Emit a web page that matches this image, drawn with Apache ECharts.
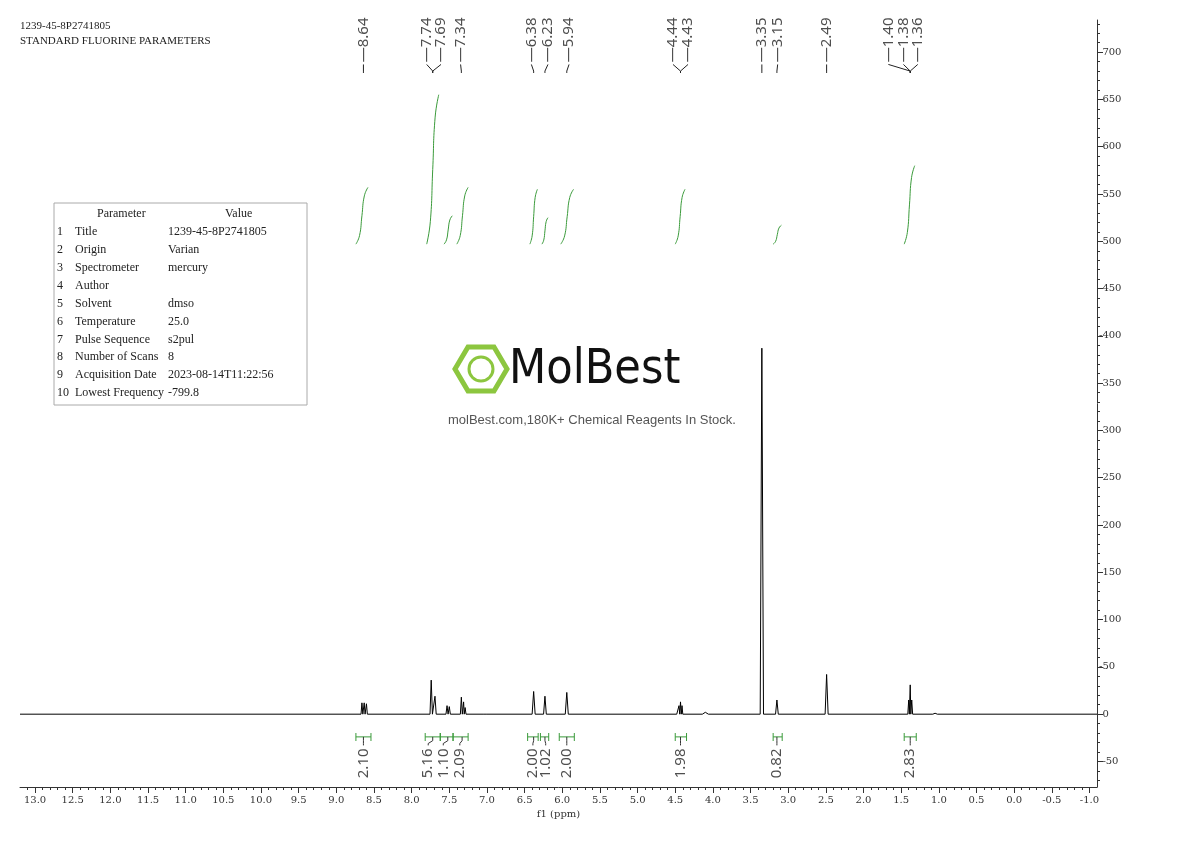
<!DOCTYPE html>
<html><head><meta charset="utf-8">
<script src="https://cdn.jsdelivr.net/npm/echarts@6/dist/echarts.min.js"></script>
<style>html,body{margin:0;padding:0;background:#fff}#c{width:1190px;height:841px}</style>
</head><body><div id="c"></div>
<script>
// spectrum peaks (ppm, intensity, half-width)
const peakShift  = [8.66, 8.63, 8.60, 7.74, 7.69, 7.53, 7.50, 7.34, 7.31, 7.29, 7.02, 6.38, 6.23, 5.94, 4.45, 4.43, 4.41, 4.10, 3.35, 3.15, 2.49, 1.40, 1.38, 1.36, 1.05];
const peakHeight = [12, 12, 11, 36, 19, 9, 8, 18, 13, 7, 2, 24, 19, 23, 9, 13, 9, 2, 387, 15, 42, 15, 31, 15, 1];
const peakWidth  = [0.012, 0.012, 0.012, 0.016, 0.016, 0.014, 0.014, 0.013, 0.012, 0.012, 0.02, 0.02, 0.018, 0.02, 0.03, 0.03, 0.03, 0.04, 0.022, 0.018, 0.02, 0.012, 0.012, 0.012, 0.03];
// integrals
const intStart = [8.74, 7.80, 7.57, 7.40, 6.43, 6.27, 6.02, 4.50, 3.20, 1.46];
const intEnd   = [8.58, 7.64, 7.46, 7.25, 6.33, 6.19, 5.85, 4.37, 3.09, 1.32];
const intY0    = [497, 497, 497, 497, 497, 497, 497, 497, 497, 497];
const intY1    = [557, 655, 527, 557, 555, 525, 555, 555, 517, 580];
const intLabel = ['2.10', '5.16', '1.10', '2.09', '2.00', '1.02', '2.00', '1.98', '0.82', '2.83'];
const intLabelX= [8.64, 7.78, 7.58, 7.36, 6.39, 6.22, 5.94, 4.43, 3.15, 1.38];
const intBarX  = [8.64, 7.72, 7.52, 7.33, 6.38, 6.23, 5.94, 4.43, 3.15, 1.38];
const intBarL  = [8.74, 7.82, 7.62, 7.45, 6.46, 6.29, 6.04, 4.50, 3.20, 1.46];
const intBarR  = [8.54, 7.62, 7.45, 7.25, 6.32, 6.18, 5.84, 4.35, 3.08, 1.30];
// peak labels
const pkLabel  = ['8.64', '7.74', '7.69', '7.34', '6.38', '6.23', '5.94', '4.44', '4.43', '3.35', '3.15', '2.49', '1.40', '1.38', '1.36'];
const pkLabelX = [8.64, 7.80, 7.61, 7.35, 6.41, 6.19, 5.91, 4.53, 4.33, 3.35, 3.14, 2.49, 1.67, 1.47, 1.28];
const pkTarget = [8.64, 7.72, 7.72, 7.34, 6.38, 6.23, 5.94, 4.43, 4.43, 3.35, 3.15, 2.49, 1.38, 1.38, 1.38];
// axes
const xTicks = [13, 12.5, 12, 11.5, 11, 10.5, 10, 9.5, 9, 8.5, 8, 7.5, 7, 6.5, 6, 5.5, 5, 4.5, 4, 3.5, 3, 2.5, 2, 1.5, 1, 0.5, 0, -0.5, -1];
const yTicks = [-50, 0, 50, 100, 150, 200, 250, 300, 350, 400, 450, 500, 550, 600, 650, 700];
const paramRows = [['1','Title','1239-45-8P2741805'],['2','Origin','Varian'],['3','Spectrometer','mercury'],['4','Author',''],['5','Solvent','dmso'],['6','Temperature','25.0'],['7','Pulse Sequence','s2pul'],['8','Number of Scans','8'],['9','Acquisition Date','2023-08-14T11:22:56'],['10','Lowest Frequency','-799.8']];

const spec = [[13.2, 0]];
for (let i = 0; i < peakShift.length; i++) {
  spec.push([peakShift[i] + peakWidth[i], 0], [peakShift[i], peakHeight[i]], [peakShift[i] - peakWidth[i], 0]);
}
spec.push([-1.1, 0]);
spec.sort((a, b) => b[0] - a[0]);

const G = '#3a9a3a';
const series = [{type: 'line', data: spec, symbol: 'none', lineStyle: {color: '#000', width: 1}, animation: false}];
const txt = (x, y, s) => ({type: 'scatter', animation: false, symbol: 'circle', symbolSize: 0.1, itemStyle: {color: 'rgba(0,0,0,0)'}, data: [[x, y]],
  label: {show: true, formatter: s, rotate: 90, position: 'inside', fontSize: 15, color: '#222', fontFamily: 'Noto Sans'}});
for (let i = 0; i < intStart.length; i++) {
  const dx = intStart[i] - intEnd[i], dy = intY1[i] - intY0[i];
  series.push({type: 'line', symbol: 'none', smooth: true, animation: false, lineStyle: {color: G, width: 1},
    data: [[intStart[i], intY0[i]], [intStart[i] - dx * 0.3, intY0[i] + dy * 0.15], [intStart[i] - dx * 0.5, intY0[i] + dy * 0.5], [intStart[i] - dx * 0.7, intY0[i] + dy * 0.85], [intEnd[i], intY1[i]]]});
  series.push({type: 'line', animation: false, lineStyle: {color: G, width: 1}, symbol: 'rect', symbolSize: [1, 8], itemStyle: {color: G},
    data: [[intBarL[i], -24], [intBarR[i], -24]]});
  series.push({type: 'line', animation: false, symbol: 'none', lineStyle: {color: '#333', width: 1},
    data: [[intBarX[i], -24], [intBarX[i], -28], [intLabelX[i], -31], [intLabelX[i], -33]]});
  series.push(txt(intLabelX[i], -52, intLabel[i]));
}
for (let i = 0; i < pkLabel.length; i++) {
  series.push(txt(pkLabelX[i], 713, '—' + pkLabel[i]));
  series.push({type: 'line', animation: false, symbol: 'none', lineStyle: {color: '#222', width: 1},
    data: [[pkLabelX[i], 687], [pkLabelX[i], 685], [pkTarget[i], 680], [pkTarget[i], 678]]});
}

const minorX = []; for (let v = -10; v <= 131; v++) minorX.push(v / 10);
const minorY = []; for (let v = -7; v <= 73; v++) minorY.push(v * 10);
const serif = 'DejaVu Serif';

const chart = echarts.init(document.getElementById('c'));
chart.setOption({
  animation: false,
  grid: {left: 20, right: 93, top: 20, bottom: 54},
  xAxis: [{type: 'value', inverse: true, min: -1.1, max: 13.2, name: 'f1 (ppm)', nameLocation: 'middle', nameGap: 20,
    nameTextStyle: {fontSize: 10, fontFamily: serif, color: '#333'},
    axisLine: {onZero: false, lineStyle: {color: '#333'}}, splitLine: {show: false},
    axisTick: {customValues: minorX, length: 3, lineStyle: {color: '#333'}},
    axisLabel: {customValues: xTicks, formatter: v => v.toFixed(1), fontSize: 10, fontFamily: serif, color: '#333', margin: 8}},
    {type: 'value', inverse: true, min: -1.1, max: 13.2, position: 'bottom', axisLine: {show: false, onZero: false}, splitLine: {show: false},
    axisTick: {customValues: xTicks, length: 6, lineStyle: {color: '#333'}}, axisLabel: {show: false}}],
  yAxis: [{type: 'value', position: 'right', min: -77, max: 734, axisLine: {show: true, onZero: false, lineStyle: {color: '#333'}}, splitLine: {show: false},
    axisTick: {customValues: minorY, length: 3, lineStyle: {color: '#333'}},
    axisLabel: {customValues: yTicks, fontSize: 10, fontFamily: serif, color: '#333', margin: 2, formatter: v => '-' + v}},
    {type: 'value', position: 'right', min: -77, max: 734, axisLine: {show: false, onZero: false}, splitLine: {show: false},
    axisTick: {customValues: yTicks, length: 6, lineStyle: {color: '#333'}}, axisLabel: {show: false}}],
  series: series,
  graphic: [
    {type: 'text', left: 20, top: 19, style: {text: '1239-45-8P2741805\nSTANDARD FLUORINE PARAMETERS', font: '11px "Liberation Serif"', lineHeight: 15, fill: '#222'}},
    {type: 'rect', shape: {x: 54, y: 203, width: 253, height: 202}, style: {fill: 'none', stroke: '#aaa', lineWidth: 1}},
    {type: 'text', x: 97, y: 208, style: {text: 'Parameter', font: '12px "Liberation Serif"', fill: '#222'}},
    {type: 'text', x: 225, y: 208, style: {text: 'Value', font: '12px "Liberation Serif"', fill: '#222'}},
    ...paramRows.map((r, i) => ({type: 'group', children: [
      {type: 'text', x: 57, y: 226 + i * 17.9, style: {text: r[0], font: '12px "Liberation Serif"', fill: '#222'}},
      {type: 'text', x: 75, y: 226 + i * 17.9, style: {text: r[1], font: '12px "Liberation Serif"', fill: '#222'}},
      {type: 'text', x: 168, y: 226 + i * 17.9, style: {text: r[2], font: '12px "Liberation Serif"', fill: '#222'}}]})),
    {type: 'polygon', shape: {points: [[468, 347], [494, 347], [507, 369], [494, 391], [468, 391], [455, 369]]}, style: {fill: 'none', stroke: '#8cc63f', lineWidth: 5}},
    {type: 'circle', shape: {cx: 481, cy: 369, r: 12}, style: {fill: 'none', stroke: '#8cc63f', lineWidth: 3}},
    {type: 'text', x: 509, y: 347, style: {text: 'MolBest', font: '48px "Liberation Sans Narrow", "DejaVu Sans Condensed"', fill: '#111'}},
    {type: 'text', x: 448, y: 414, style: {text: 'molBest.com,180K+ Chemical Reagents In Stock.', font: '13px "Liberation Sans"', fill: '#555'}}
  ]
});
</script></body></html>
